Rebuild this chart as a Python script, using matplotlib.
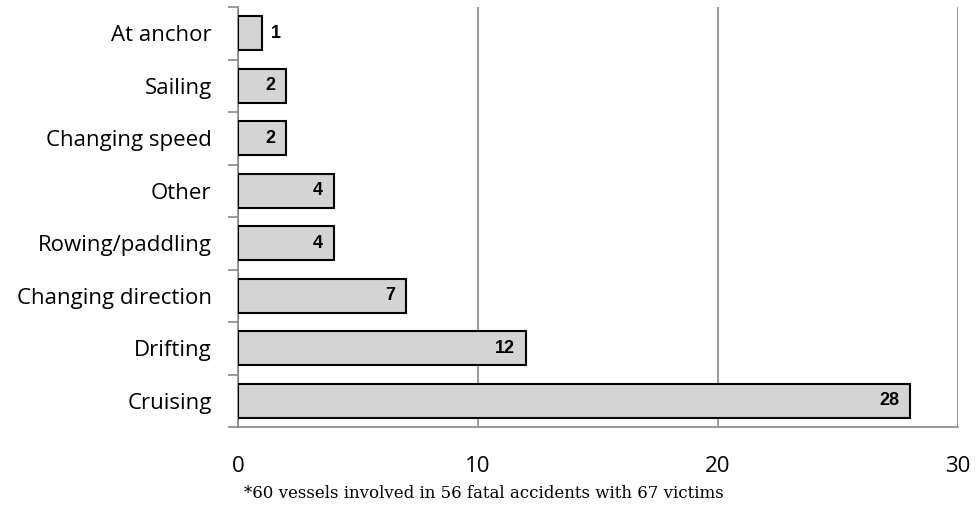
import numpy as np
import matplotlib.pyplot as plt

categories = ["Cruising", "Drifting", "Changing direction", "Rowing/paddling",
              "Other", "Changing speed", "Sailing", "At anchor"]
values = [28, 12, 7, 4, 4, 2, 2, 1]
xticks = [0, 10, 20, 30]
note = "*60 vessels involved in 56 fatal accidents with 67 victims"

fig = plt.figure(figsize=(9.76, 5.14), dpi=100)
ax = fig.add_axes([238/976, 1 - 427/514, 720/976, 420/514])

y = np.arange(len(categories))
ax.barh(y, values, height=0.65, color="#d4d4d4", edgecolor="black", linewidth=1.5, zorder=3)

for yi, v in zip(y, values):
    if v < 2:
        ax.text(v + 0.35, yi, str(v), ha="left", va="center", fontsize=13,
                fontweight="bold", family="Liberation Sans", zorder=4)
    else:
        ax.text(v - 0.45, yi, str(v), ha="right", va="center", fontsize=13,
                fontweight="bold", family="Liberation Sans", zorder=4)

ax.set_xlim(0, 30)
ax.set_ylim(-0.5, len(categories) - 0.5)
ax.set_xticks(xticks)
ax.set_xticklabels([str(t) for t in xticks], family="Open Sans", fontsize=16)
ax.tick_params(axis="x", length=0, pad=21)

ax.set_yticks(y)
ax.set_yticklabels(categories, family="Open Sans", fontsize=16)
ax.set_yticks(np.arange(-0.5, len(categories)), minor=True)
ax.tick_params(axis="y", which="major", length=0, pad=19)
ax.tick_params(axis="y", which="minor", length=7, width=1.2, color="#888888")

ax.xaxis.grid(True, color="#888888", linewidth=1.2, zorder=0)
for s in ["top", "right"]:
    ax.spines[s].set_visible(False)
ax.spines["left"].set_color("#888888")
ax.spines["left"].set_linewidth(1.2)
ax.spines["bottom"].set_color("#888888")
ax.spines["bottom"].set_linewidth(1.2)

fig.text(484/976, 1 - 494/514, note, ha="center", va="center",
         family="DejaVu Serif", fontsize=12)

fig.savefig("out.png", dpi=100)
